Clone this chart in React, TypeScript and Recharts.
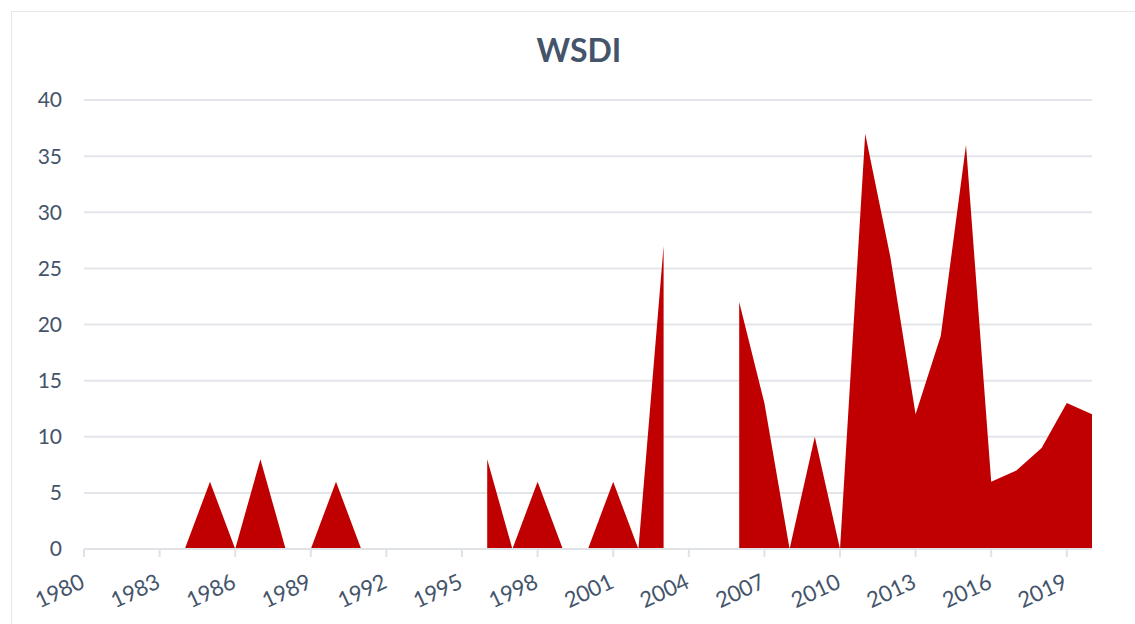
import { AreaChart, Area, XAxis, YAxis, CartesianGrid } from 'recharts';

const years = [
  1980, 1981, 1982, 1983, 1984, 1985, 1986, 1987, 1988, 1989,
  1990, 1991, 1992, 1993, 1994, 1995, 1996, 1997, 1998, 1999,
  2000, 2001, 2002, 2003, 2004, 2005, 2006, 2007, 2008, 2009,
  2010, 2011, 2012, 2013, 2014, 2015, 2016, 2017, 2018, 2019, 2020,
];

// null = missing year (breaks the area)
const wsdi: (number | null)[] = [
  0, 0, 0, 0, 0, 6, 0, 8, 0, 0,
  6, 0, 0, 0, 0, null, 8, 0, 6, 0,
  0, 6, 0, 27, null, null, 22, 13, 0, 10,
  0, 37, 26, 12, 19, 36, 6, 7, 9, 13, 12,
];

const yTicks = [0, 5, 10, 15, 20, 25, 30, 35, 40];

const data = years.map((y, i) => ({ year: String(y), wsdi: wsdi[i] }));

const TEXT = '#44546a';
const FONT = 'Lato, "Open Sans", sans-serif';

function YearTick({ x, y, payload }: any) {
  return (
    <text
      x={0}
      y={0}
      transform={`translate(${x + 2},${y + 28}) rotate(-25)`}
      textAnchor="end"
      fill={TEXT}
      fontSize={22}
      fontFamily={FONT}
    >
      {payload.value}
    </text>
  );
}

export default function App() {
  return (
    <div style={{ position: 'absolute', left: 0, top: 0, width: 1135, height: 624, overflow: 'hidden', background: '#fff' }}>
      <div
        style={{
          position: 'absolute', left: 11, top: 11, width: 1200, height: 700,
          border: '1px solid #e4e7ec', boxSizing: 'border-box',
        }}
      />
      <div
        style={{
          position: 'absolute', left: 0, top: 30, width: 1158, textAlign: 'center',
          fontFamily: FONT, fontWeight: 700, fontSize: 32, color: TEXT,
        }}
      >
        WSDI
      </div>
      <div style={{ position: 'absolute', left: 0, top: 0 }}>
        <AreaChart width={1135} height={624} data={data} margin={{ top: 100, right: 43, bottom: 15, left: 0 }}>
          <CartesianGrid vertical={false} stroke="#e2e5ea" strokeWidth={2} />
          <XAxis
            dataKey="year"
            interval={2}
            tick={<YearTick />}
            tickSize={8}
            tickLine={{ stroke: '#dfe2e7', strokeWidth: 2 }}
            axisLine={{ stroke: '#dfe2e7', strokeWidth: 2 }}
            height={60}
          />
          <YAxis
            domain={[0, 40]}
            ticks={yTicks}
            width={84}
            axisLine={false}
            tickLine={false}
            tickMargin={16}
            tick={{ fill: TEXT, fontSize: 21, fontFamily: FONT }}
          />
          <Area
            type="linear"
            dataKey="wsdi"
            fill="#c00000"
            fillOpacity={1}
            stroke="none"
            isAnimationActive={false}
            dot={false}
            activeDot={false}
          />
        </AreaChart>
      </div>
    </div>
  );
}
